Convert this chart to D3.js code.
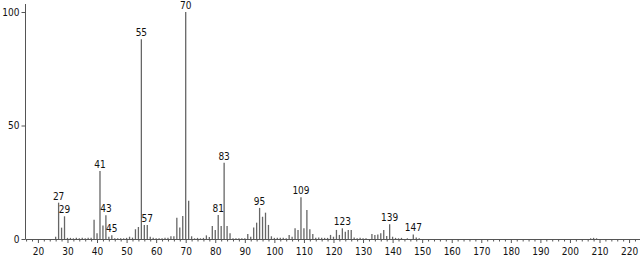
<!DOCTYPE html>
<html>
<head>
<meta charset="utf-8">
<script src="https://cdn.jsdelivr.net/npm/d3@7"></script>
<style>
  body { margin: 0; background: #fff; }
  text { font-family: "Liberation Sans Narrow", "DejaVu Sans Condensed", sans-serif; font-size: 10px; fill: #111; }
</style>
</head>
<body>
<div id="chart"></div>
<script>
// m/z values and relative intensities
var masses = [26,27,28,29,30,31,32,33,34,35,36,37,38,39,40,41,42,43,44,45,46,47,48,49,50,
  51,52,53,54,55,56,57,58,59,60,61,62,63,64,65,66,67,68,69,70,71,72,73,74,75,76,77,78,79,80,
  81,82,83,84,85,86,87,88,89,90,91,92,93,94,95,96,97,98,99,100,101,102,103,104,105,106,107,108,109,110,
  111,112,113,114,115,116,117,118,119,120,121,122,123,124,125,126,127,128,129,130,131,133,134,135,136,137,138,139,140,
  141,142,143,145,147,148,149,207,208,209];
var intensities = [1,16,5,10,0.5,0.5,0.3,0.5,0.3,0.5,0.3,0.5,0.5,8.5,2.5,30,6,10.5,1,1.6,0.3,0.3,0.3,0.3,0.5,
  1,0.6,4.3,5.3,88,6.2,6.2,1,0.5,0.3,0.3,0.3,0.6,0.6,1.2,1.2,9.4,5.1,10.1,100,16.9,1.2,0.3,0.5,0.3,0.5,1.6,0.9,5.7,4,
  10.6,5.7,33.6,5.7,2.5,0.3,0.3,0.3,0.3,0.3,2.2,1,5.1,7.2,13.7,9.8,11.6,6.2,1.2,0.5,0.5,0.5,0.5,0.3,1.8,1,4.7,4,18.4,4.7,
  12.8,4.3,2.2,0.5,0.7,0.5,0.5,0.5,1.8,1,4,1.8,4.7,3.2,4,4,0.7,0.3,0.5,0.3,0.3,2.2,1.8,2,2.5,4,1.3,6.5,1,
  0.5,0.3,0.5,0.3,2,0.7,0.3,0.3,0.5,0.3];
var labeledPeaks = [27,29,41,43,45,55,57,70,81,83,95,109,123,139,147];
var xTickLabels = [20,30,40,50,60,70,80,90,100,110,120,130,140,150,160,170,180,190,200,210,220];
var yTickLabels = [0,50,100];

var w = 644, h = 256;

var svg = d3.select("#chart")
            .append("svg")
            .attr("width", w)
            .attr("height", h);

var x = d3.scaleLinear().domain([15.8, 223.7]).range([25.5, 640]);
var y = d3.scaleLinear().domain([0, 100]).range([239, 12]);

var peaks = masses.map(function(m, i){ return {mz: m, val: intensities[i]}; });

// bars (stick spectrum)
svg.selectAll(".peak")
  .data(peaks)
  .enter().append("line")
  .attr("class", "peak")
  .attr("x1", function(d){ return x(d.mz); })
  .attr("x2", function(d){ return x(d.mz); })
  .attr("y1", y(0))
  .attr("y2", function(d){ return y(d.val); })
  .style("stroke", "#666")
  .style("stroke-width", 1.3);

// peak labels
svg.selectAll(".plabel")
  .data(peaks.filter(function(d){ return labeledPeaks.indexOf(d.mz) >= 0; }))
  .enter().append("text")
  .attr("class", "plabel")
  .attr("x", function(d){ return x(d.mz); })
  .attr("y", function(d){ return y(d.val) - 3; })
  .attr("text-anchor", "middle")
  .text(function(d){ return d.mz; });

// x axis
var xAxis = d3.axisBottom(x)
  .tickValues(xTickLabels)
  .tickSize(4)
  .tickFormat(d3.format("d"));
var gx = svg.append("g").attr("transform", "translate(0," + y(0) + ")").call(xAxis);
gx.select(".domain").attr("d", "M25.5,0.5H640").style("stroke", "#555");
gx.selectAll(".tick line").style("stroke", "#555");
gx.selectAll(".tick text").attr("dy", "0.9em").style("font-size", "10px");

// minor ticks every 2
var minor = d3.range(16, 224, 2).filter(function(v){ return v % 10 != 0; });
gx.selectAll(".minor")
  .data(minor)
  .enter().append("line")
  .attr("class", "minor")
  .attr("x1", function(d){ return x(d) + 0.5; })
  .attr("x2", function(d){ return x(d) + 0.5; })
  .attr("y1", 0)
  .attr("y2", 2.5)
  .style("stroke", "#555");

// y axis
var yAxis = d3.axisLeft(y)
  .tickValues(yTickLabels)
  .tickSize(4)
  .tickPadding(2);
var gy = svg.append("g").attr("transform", "translate(25.5,0)").call(yAxis);
gy.select(".domain").attr("d", "M0,4V239").style("stroke", "#555");
gy.selectAll(".tick line").style("stroke", "#555");
gy.selectAll(".tick text").style("font-size", "10px");
</script>
</body>
</html>
